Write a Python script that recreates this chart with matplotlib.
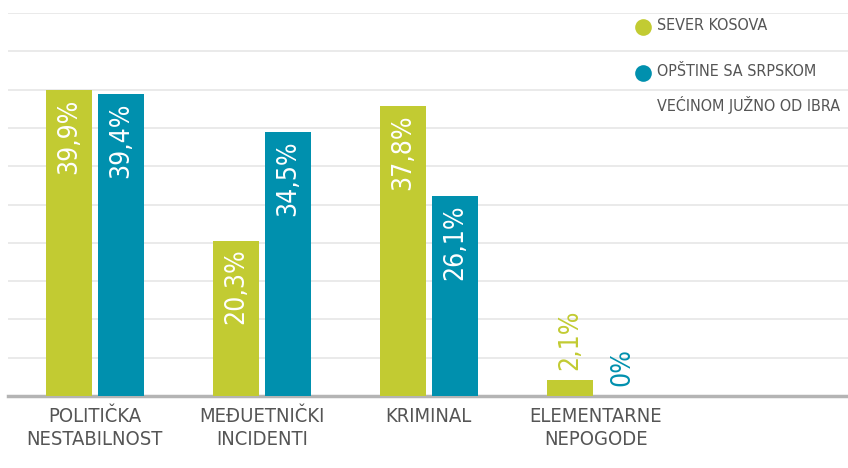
import matplotlib.pyplot as plt
from matplotlib.lines import Line2D
import numpy as np

# data
categories = ["POLITIČKA\nNESTABILNOST", "MEĐUETNIČKI\nINCIDENTI", "KRIMINAL", "ELEMENTARNE\nNEPOGODE"]
series_names = ["SEVER KOSOVA", "OPŠTINE SA SRPSKOM\nVEĆINOM JUŽNO OD IBRA"]
sever = [39.9, 20.3, 37.8, 2.1]
juzno = [39.4, 34.5, 26.1, 0.0]
colors = ["#c2cb32", "#0090ae"]

plt.rcParams['font.family'] = ['DejaVu Sans']
plt.rcParams['font.stretch'] = 'condensed'

fig = plt.figure(figsize=(8.48, 4.68), dpi=100)
ax = fig.add_axes([8/848, 72/468, 840/848, 383/468])

x = np.arange(len(categories))
w = 0.275
off = 0.156
for vals, col, sign in [(sever, colors[0], -1), (juzno, colors[1], 1)]:
    ax.bar(x + sign*off, vals, width=w, color=col, zorder=3)
    for xi, v in zip(x + sign*off, vals):
        lab = (f"{v:.1f}%" if v % 1 else f"{int(v)}%").replace(".", ",")
        if v > 10:
            ax.annotate(lab, (xi, v), xytext=(0, -6), textcoords='offset points',
                        rotation=90, ha='center', va='top', color='white',
                        fontsize=19, zorder=4)
        else:
            ax.annotate(lab, (xi, v), xytext=(0, 7), textcoords='offset points',
                        rotation=90, ha='center', va='bottom', color=col,
                        fontsize=19, zorder=4)

ax.set_ylim(0, 50)
ax.set_xlim(-0.52, 4.51)
ax.set_yticks(np.arange(5, 51, 5))
ax.yaxis.grid(True, color='#e6e6e6', linewidth=1.2, zorder=0)
ax.set_yticklabels([])
ax.tick_params(left=False, bottom=False, length=0)
ax.set_xticks(x)
ax.set_xticklabels(categories, fontsize=14.5, color='#555555', linespacing=1.25)
ax.tick_params(axis='x', pad=8)
for s in ['top', 'right', 'left']:
    ax.spines[s].set_visible(False)
ax.spines['bottom'].set_color('#b4b4b4')
ax.spines['bottom'].set_linewidth(2.5)

# legend
lx, ly = 643/848, [1-27/468, 1-73/468]
for name, col, yy in zip(series_names, colors, ly):
    fig.lines.append(Line2D([lx], [yy], marker='o', markersize=12, color=col,
                            markeredgewidth=0, transform=fig.transFigure))
    fig.text(657/848, yy + 9/468, name, ha='left', va='top', fontsize=11.5,
             color='#555555', linespacing=2.15)

fig.savefig("out.png", dpi=100)
